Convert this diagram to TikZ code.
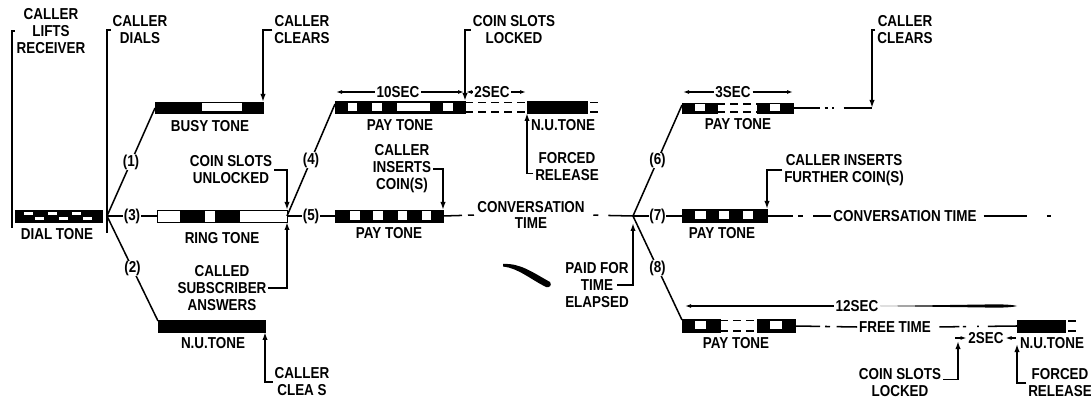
\documentclass[tikz,border=0pt]{standalone}
\usepackage{fontspec}
\setsansfont{Liberation Sans}[FakeStretch=0.85]
\usetikzlibrary{arrows.meta,calc}

\begin{document}
\begin{tikzpicture}[
  x=0.03cm, y=-0.03cm,
  line width=1.3pt,
  lbl/.style={font=\sffamily\bfseries\fontsize{13.5}{14.5}\selectfont, align=center, inner sep=1pt},
  num/.style={lbl, fill=white, inner sep=0.5pt},
  bar/.style={fill=black, draw=black, line width=0.8pt},
  arr/.style={-{Latex[length=2.4mm,width=1.6mm]}},
  dim/.style={line width=1pt, -{Latex[length=1.8mm,width=1.2mm]}},
  gapline/.style={line width=1pt, dash pattern=on 0.24cm off 0.15cm}
]
  \useasboundingbox (0,0) rectangle (1091,402);

  % junctions and bar ends
  \coordinate (jA) at (107,216);
  \coordinate (jB) at (287,216);
  \coordinate (jC) at (633,216);
  \coordinate (jCS) at (633,223);
  \coordinate (liftsB) at (12,228);
  \coordinate (dialsB) at (107,233);
  \coordinate (busyL) at (155,108);
  \coordinate (busyNE) at (263,102);
  \coordinate (ringL) at (157,216);
  \coordinate (ringNE) at (287,210);
  \coordinate (ringSE) at (287,222);
  \coordinate (nu1L) at (158,321);
  \coordinate (nu1SE) at (265,332);
  \coordinate (pay1L) at (335,104);
  \coordinate (pay1NE) at (465,101);
  \coordinate (nu2SW) at (527,113);
  \coordinate (pay2L) at (335,216);
  \coordinate (pay2R) at (443,216);
  \coordinate (pay2NE) at (443,210);
  \coordinate (pay6L) at (682,105);
  \coordinate (pay6R) at (793,108);
  \coordinate (c6) at (872,108);
  \coordinate (pay7L) at (682,216);
  \coordinate (pay7R) at (767,216);
  \coordinate (pay7NE) at (767,209);
  \coordinate (conv2end) at (1051,216);
  \coordinate (pay8L) at (682,320);
  \coordinate (pay8R) at (795,326);
  \coordinate (nu3L) at (1017,326);
  \coordinate (lk2) at (958,341);
  \coordinate (rl2) at (1017,344);
  \coordinate (d10L) at (336,92);
  \coordinate (d10R) at (464,92);
  \coordinate (d2aL) at (466,92);
  \coordinate (d2aR) at (526,92);
  \coordinate (d3L) at (683,92);
  \coordinate (d3R) at (793,92);
  \coordinate (d12L) at (685,306);
  \coordinate (d2bL) at (955,338);
  \coordinate (d2bR) at (1016,338);

  % tone bars
  \draw[bar] (15,210) rectangle (102,222);
  \foreach \x in {24,48,72} \fill[white] (\x,212) rectangle ++(9,3.5);
  \foreach \x in {35,59,83} \fill[white] (\x,217) rectangle ++(9,3.5);
  \draw[bar] (155,102) rectangle (263,113);
  \fill[white] (202,103.5) rectangle (242,111);
  \draw[line width=0.8pt, fill=white] (157,210) rectangle (287,222);
  \fill (180,210) rectangle (205,222);
  \fill (215,210) rectangle (240,222);
  \draw[bar] (158,320) rectangle (265,332);
  \draw[bar] (335,101) rectangle (465,113);
  \foreach \a/\b in {348/357,372/382,397/430,443/453} \fill[white] (\a,103) rectangle (\b,111);
  \draw[gapline] (465,102.5) -- (527,102.5);
  \draw[gapline] (465,112) -- (527,112);
  \draw[bar] (527,101) rectangle (587,113);
  \draw[gapline] (590,102.5) -- (601,102.5);
  \draw[gapline] (590,112) -- (601,112);
  \draw[bar] (335,210) rectangle (443,222);
  \foreach \a/\b in {350/360,373/383,398/407,422/431} \fill[white] (\a,211.5) rectangle (\b,220);
  \draw[bar] (682,103) rectangle (717,113);
  \fill[white] (695,104.5) rectangle (705,111.5);
  \draw[gapline] (717,104) -- (757,104);
  \draw[gapline] (717,112) -- (757,112);
  \draw[bar] (757,103) rectangle (793,113);
  \fill[white] (770,104.5) rectangle (780,111.5);
  \draw[bar] (682,209) rectangle (767,222);
  \foreach \a/\b in {695/706,719/729,743/753} \fill[white] (\a,211) rectangle (\b,219.5);
  \draw[bar] (682,319) rectangle (720,332);
  \fill[white] (695,321) rectangle (706,329.5);
  \draw[gapline] (720,320.5) -- (757,320.5);
  \draw[gapline] (720,331) -- (757,331);
  \draw[bar] (757,319) rectangle (795,332);
  \fill[white] (770,321) rectangle (782,329.5);
  \draw[bar] (1017,320) rectangle (1065,332);
  \draw[gapline] (1068,321) -- (1076,321);
  \draw[gapline] (1068,331) -- (1076,331);

  % texts
  \node[lbl] (lifts) at (51,31) {CALLER\\LIFTS\\RECEIVER};
  \node[lbl] (dials) at (140,30) {CALLER\\DIALS};
  \node[lbl] (clr1) at (302,30) {CALLER\\CLEARS};
  \node[lbl] (lock1) at (514,30) {COIN SLOTS\\LOCKED};
  \node[lbl] (clr3) at (905,30) {CALLER\\CLEARS};
  \node[lbl] (dialtone) at (57,234) {DIAL TONE};
  \node[lbl] (busytone) at (210,126) {BUSY TONE};
  \node[lbl] (ringtone) at (222,238) {RING TONE};
  \node[lbl] (nutone1) at (213,343) {N.U.TONE};
  \node[lbl] (unlock) at (231,170) {COIN SLOTS\\UNLOCKED};
  \node[lbl] (answers) at (222,288) {CALLED\\SUBSCRIBER\\ANSWERS};
  \node[lbl] (clr2) at (302,382) {CALLER\\CLEA S};
  \node[lbl] (paytone1) at (400,125) {PAY TONE};
  \node[lbl] (insert1) at (402,169) {CALLER\\INSERTS\\COIN(S)};
  \node[lbl] (paytone2) at (389,233) {PAY TONE};
  \node[lbl, font=\sffamily\bfseries\fontsize{13.5}{13}\selectfont] (conv1) at (531,215) {CONVERSATION\\TIME};
  \node[lbl] (nutone2) at (563,125) {N.U.TONE};
  \node[lbl] (release1) at (567,167) {FORCED\\RELEASE};
  \node[lbl] (sec10) at (398,92) {10SEC};
  \node[lbl] (sec2a) at (492,92) {2SEC};
  \node[lbl] (paid) at (597,285) {PAID FOR\\TIME\\ELAPSED};
  \node[lbl] (sec3) at (733,92) {3SEC};
  \node[lbl] (paytone6) at (738,124) {PAY TONE};
  \node[lbl] (further) at (844,170) {CALLER INSERTS\\FURTHER COIN(S)};
  \node[lbl] (paytone7) at (722,233) {PAY TONE};
  \node[lbl] (conv2) at (905,216) {CONVERSATION TIME};
  \node[lbl] (sec12) at (857,306) {12SEC};
  \node[lbl] (paytone8) at (736,343) {PAY TONE};
  \node[lbl] (free) at (895,327) {FREE TIME};
  \node[lbl] (sec2b) at (986,338) {2SEC};
  \node[lbl] (nutone3) at (1052,343) {N.U.TONE};
  \node[lbl] (lock2) at (900,383) {COIN SLOTS\\LOCKED};
  \node[lbl] (release2) at (1060,383) {FORCED\\RELEASE};

  % branches
  \draw (jA) -- node[num] (n1) {(1)} (busyL);
  \draw (jA) -- node[num] (n2) {(2)} (nu1L);
  \draw (jA) -- node[num] (n3) {(3)} (ringL);
  \draw (jB) -- node[num] (n4) {(4)} (pay1L);
  \draw (jB) -- node[num] (n5) {(5)} (pay2L);
  \draw (jC) -- node[num] (n6) {(6)} (pay6L);
  \draw (jC) -- node[num] (n7) {(7)} (pay7L);
  \draw (jC) -- node[num] (n8) {(8)} (pay8L);

  % event markers
  \draw (lifts.west) -| (liftsB);
  \draw (dials.west) -| (dialsB);
  \draw[arr] (clr1.west) -| (busyNE);
  \draw[arr] (unlock.east) -| (ringNE);
  \draw[arr] (answers.east) -| (ringSE);
  \draw[arr] (clr2.west) -| (nu1SE);
  \draw[arr] (lock1.west) -| (pay1NE);
  \draw[arr] ([yshift=-0.2cm]release1.west) -| (nu2SW);
  \draw[arr] (insert1.east) -| (pay2NE);
  \draw[arr] ([xshift=0.6cm]paid.center) -| (jCS);
  \draw[arr] (clr3.west) -| (c6);
  \draw[arr] (further.west) -| (pay7NE);
  \draw[arr] ([yshift=0.1cm]lock2.east) -| (lk2);
  \draw[arr] (release2.west) -| (rl2);

  % time lines
  \draw[dash pattern=on 0.57cm off 0.18cm on 0.18cm off 2cm] (pay2R) -- (conv1.west);
  \draw[dash pattern=on 0pt off 0.2cm on 0.15cm off 0.3cm on 2cm] (conv1.east) -- (jC);
  \draw[dash pattern=on 0.8cm off 0.15cm on 0.1cm off 0.12cm on 0.05cm off 0.3cm on 2cm] (pay6R) -- (c6);
  \draw[dash pattern=on 0.78cm off 0.15cm on 0.15cm off 0.3cm on 2cm] (pay7R) -- (conv2.west);
  \draw[dash pattern=on 0pt off 0.15cm on 1.3cm off 0.6cm on 0.12cm off 1cm] (conv2.east) -- (conv2end);
  \draw[dash pattern=on 0.75cm off 0.15cm on 0.15cm off 0.2cm on 2cm] (pay8R) -- (free.west);
  \draw[dash pattern=on 0pt off 0.2cm on 0.6cm off 0.1cm on 0.1cm off 0.33cm on 0.05cm off 0.27cm on 2cm] (free.east) -- (nu3L);

  % durations
  \draw[dim] (sec10.west) -- (d10L);
  \draw[dim] (sec10.east) -- (d10R);
  \draw[dim] (sec2a.west) -- (d2aL);
  \draw[dim] (sec2a.east) -- (d2aR);
  \draw[dim] (sec3.west) -- (d3L);
  \draw[dim] (sec3.east) -- (d3R);
  \draw[dim] (sec12.west) -- (d12L);
  \fill (sec12.east) -- (985,304.5) .. controls (1005,304) and (1014,305) .. (1017,306)
        .. controls (1014,307) and (1005,308) .. (985,307.5) -- cycle;
  \draw[dim] (d2bL) -- (sec2b.west);
  \draw[dim] (d2bR) -- (sec2b.east);

  % stray pen stroke
  \fill (503,264) .. controls (520,263) and (532,272) .. (550,282)
        .. controls (552,285) and (550,288) .. (546,287)
        .. controls (530,279) and (518,268) .. (503,266.5) -- cycle;
\end{tikzpicture}
\end{document}
